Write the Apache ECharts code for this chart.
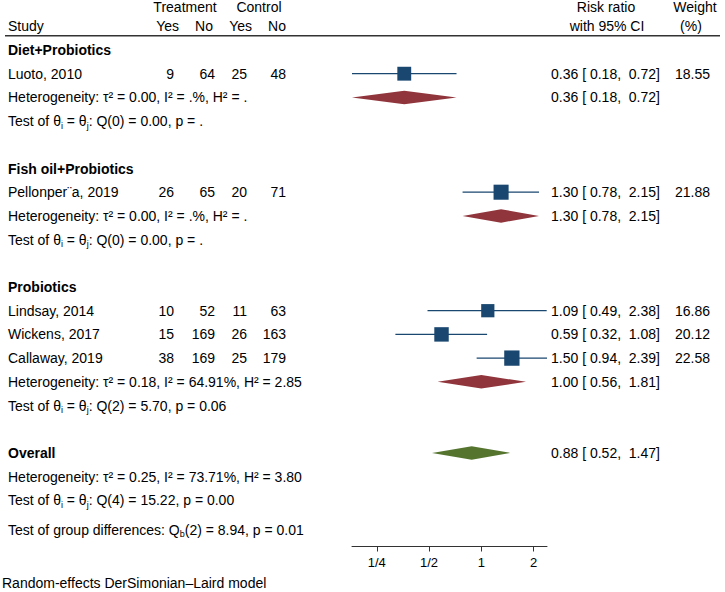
<!DOCTYPE html>
<html>
<head>
<meta charset="utf-8">
<script src="https://cdn.jsdelivr.net/npm/echarts@6/dist/echarts.min.js"></script>
<style>
  html, body { margin: 0; padding: 0; background: #fff; }
  #chart { width: 725px; height: 592px; }
</style>
</head>
<body>
<div id="chart"></div>
<script>
// study level data
const studies = ['Luoto, 2010', 'Pellonper\u00a8a, 2019', 'Lindsay, 2014', 'Wickens, 2017', 'Callaway, 2019'];
const studyRows = [1, 6, 11, 12, 13];
const treatYes = [9, 26, 10, 15, 38];
const treatNo = [64, 65, 52, 169, 169];
const ctrlYes = [25, 20, 11, 26, 25];
const ctrlNo = [48, 71, 63, 163, 179];
const rr = [0.36, 1.30, 1.09, 0.59, 1.50];
const rrLo = [0.18, 0.78, 0.49, 0.32, 0.94];
const rrHi = [0.72, 2.15, 2.38, 1.08, 2.39];
const weights = [18.55, 21.88, 16.86, 20.12, 22.58];

// subgroups
const groups = ['Diet+Probiotics', 'Fish oil+Probiotics', 'Probiotics'];
const groupRows = [0, 5, 10];
const groupRR = [0.36, 1.30, 1.00];
const groupLo = [0.18, 0.78, 0.56];
const groupHi = [0.72, 2.15, 1.81];
const groupHet = ['0.00', '0.00', '0.18'];
const groupI2 = ['.', '.', '64.91'];
const groupH2 = ['.', '.', '2.85'];
const groupQdf = [0, 0, 2];
const groupQ = ['0.00', '0.00', '5.70'];
const groupP = ['.', '.', '0.06'];

// overall
const overallRow = 17;
const overallRR = 0.88, overallLo = 0.52, overallHi = 1.47;
const overallText = { tau2: '0.25', i2: '73.71', h2: '3.80', qdf: 4, q: '15.22', p: '0.00' };
const groupDiff = { df: 2, q: '8.94', p: '0.01' };

const tickValues = [0.25, 0.5, 1, 2];

// layout
const ROW_H = 23.7;
const TOP_ROW = -2;
const AXIS_ROW = 20.95;
const FONT = 'Liberation Sans, Arial, sans-serif';
const BLUE = '#1a476f';
const MAROON = '#90353b';
const GREEN = '#55752f';
const SQUARE_K = 3.22;
const DIAMOND_H = 13.5;

const log2 = Math.log2;
const f2 = v => v.toFixed(2);
const ciText = (m, l, h) => f2(m) + ' [ ' + f2(l) + ',  ' + f2(h) + ']';

const xMin = log2(Math.min(...rrLo, ...groupLo, overallLo));
const xMax = log2(Math.max(...rrHi, ...groupHi, overallHi));

const chart = echarts.init(document.getElementById('chart'), null, { renderer: 'svg' });

const diamondRows = [2, 7, 14];
const diamondData = groupRR.map((m, i) => [log2(groupLo[i]), log2(m), log2(groupHi[i]), diamondRows[i], 0]);
diamondData.push([log2(overallLo), log2(overallRR), log2(overallHi), overallRow, 1]);

function renderDiamond(params, api) {
  const l = api.coord([api.value(0), api.value(3)]);
  const m = api.coord([api.value(1), api.value(3)]);
  const h = api.coord([api.value(2), api.value(3)]);
  return {
    type: 'polygon',
    shape: { points: [[l[0], l[1]], [m[0], m[1] - DIAMOND_H / 2], [h[0], h[1]], [m[0], m[1] + DIAMOND_H / 2]] },
    style: { fill: api.value(4) ? GREEN : MAROON }
  };
}

function renderCI(params, api) {
  const a = api.coord([api.value(0), api.value(2)]);
  const b = api.coord([api.value(1), api.value(2)]);
  return {
    type: 'line',
    shape: { x1: a[0], y1: a[1], x2: b[0], y2: b[1] },
    style: { stroke: BLUE, lineWidth: 1.2 }
  };
}

chart.setOption({
  animation: false,
  grid: {
    left: 352,
    width: 195,
    top: 50 + TOP_ROW * ROW_H,
    height: (AXIS_ROW - TOP_ROW) * ROW_H
  },
  xAxis: {
    type: 'value',
    position: 'bottom',
    min: xMin,
    max: xMax,
    splitLine: { show: false },
    axisLine: { onZero: false, lineStyle: { color: '#333', width: 1 } },
    axisTick: { length: 5, lineStyle: { color: '#333' }, customValues: tickValues.map(log2) },
    axisLabel: {
      customValues: tickValues.map(log2),
      margin: 9,
      color: '#000',
      fontSize: 13,
      fontFamily: FONT,
      formatter: v => {
        const r = Math.pow(2, v);
        return r < 1 ? '1/' + Math.round(1 / r) : String(Math.round(r));
      }
    }
  },
  yAxis: {
    type: 'value',
    inverse: true,
    min: TOP_ROW,
    max: AXIS_ROW,
    show: false
  },
  series: [
    {
      type: 'custom',
      renderItem: renderCI,
      data: rrLo.map((l, i) => [log2(l), log2(rrHi[i]), studyRows[i]]),
      z: 2
    },
    {
      type: 'scatter',
      symbol: 'rect',
      symbolSize: v => SQUARE_K * Math.sqrt(v[2]),
      itemStyle: { color: BLUE, opacity: 1 },
      data: rr.map((m, i) => [log2(m), studyRows[i], weights[i]]),
      z: 3
    },
    {
      type: 'custom',
      renderItem: renderDiamond,
      data: diamondData,
      z: 2
    }
  ]
});

// text table, rows placed through the y axis
const rowY = r => chart.convertToPixel({ yAxisIndex: 0 }, r);
const base = { fontFamily: FONT, fontSize: 14, fill: '#000' };
const txt = (x, row, text, opts) => ({
  type: 'text',
  x: x,
  y: rowY(row),
  style: Object.assign({}, base, { text: text, verticalAlign: 'middle', align: 'left' }, opts || {})
});
const rich = {
  s: { fontSize: 9, lineHeight: 9, verticalAlign: 'bottom', fontFamily: FONT, fill: '#000' },
  n: { fontSize: 14, lineHeight: 18, fontFamily: FONT, fill: '#000' }
};
const hetLine = (t, i, h) => 'Heterogeneity: \u03c4\u00b2 = ' + t + ', I\u00b2 = ' + i + '%, H\u00b2 = ' + h;
const testLine = (df, q, p) => '{n|Test of \u03b8}{s|i}{n| = \u03b8}{s|j}{n|: Q(' + df + ') = ' + q + ', p = ' + p + '}';

const COL_STUDY = 8, COL_TY = 174, COL_TN = 215, COL_CY = 247, COL_CN = 286;
const COL_CI = 551, COL_W = 710;

const g = [];
// header
g.push(txt(185, -1.8, 'Treatment', { align: 'center' }));
g.push(txt(259, -1.8, 'Control', { align: 'center' }));
g.push(txt(COL_STUDY, -1.03, 'Study'));
g.push(txt(179, -1.03, 'Yes', { align: 'right' }));
g.push(txt(213, -1.03, 'No', { align: 'right' }));
g.push(txt(252, -1.03, 'Yes', { align: 'right' }));
g.push(txt(286, -1.03, 'No', { align: 'right' }));
g.push(txt(606, -1.8, 'Risk ratio', { align: 'center' }));
g.push(txt(607, -1.03, 'with 95% CI', { align: 'center' }));
g.push(txt(695, -1.8, 'Weight', { align: 'center' }));
g.push(txt(691, -1.03, '(%)', { align: 'center' }));
g.push({
  type: 'line',
  shape: { x1: 5, y1: rowY(-0.6), x2: 720, y2: rowY(-0.6) },
  style: { stroke: '#333', lineWidth: 1.5 }
});

// groups
groups.forEach((name, i) => {
  g.push(txt(COL_STUDY, groupRows[i], name, { fontWeight: 'bold' }));
  g.push(txt(COL_STUDY, diamondRows[i], hetLine(groupHet[i], groupI2[i], groupH2[i])));
  g.push(txt(COL_STUDY, diamondRows[i] + 1, testLine(groupQdf[i], groupQ[i], groupP[i]), { rich: rich }));
  g.push(txt(COL_CI, diamondRows[i], ciText(groupRR[i], groupLo[i], groupHi[i])));
});

// studies
studies.forEach((name, i) => {
  const r = studyRows[i];
  g.push(txt(COL_STUDY, r, name));
  g.push(txt(COL_TY, r, String(treatYes[i]), { align: 'right' }));
  g.push(txt(COL_TN, r, String(treatNo[i]), { align: 'right' }));
  g.push(txt(COL_CY, r, String(ctrlYes[i]), { align: 'right' }));
  g.push(txt(COL_CN, r, String(ctrlNo[i]), { align: 'right' }));
  g.push(txt(COL_CI, r, ciText(rr[i], rrLo[i], rrHi[i])));
  g.push(txt(COL_W, r, f2(weights[i]), { align: 'right' }));
});

// overall
g.push(txt(COL_STUDY, overallRow, 'Overall', { fontWeight: 'bold' }));
g.push(txt(COL_STUDY, overallRow + 1, hetLine(overallText.tau2, overallText.i2, overallText.h2)));
g.push(txt(COL_STUDY, overallRow + 2, testLine(overallText.qdf, overallText.q, overallText.p), { rich: rich }));
g.push(txt(COL_CI, overallRow, ciText(overallRR, overallLo, overallHi)));
g.push(txt(COL_STUDY, 20.25,
  '{n|Test of group differences: Q}{s|b}{n|(' + groupDiff.df + ') = ' + groupDiff.q + ', p = ' + groupDiff.p + '}',
  { rich: rich }));

// note
g.push({
  type: 'text',
  x: 2,
  y: 583,
  style: Object.assign({}, base, { text: 'Random-effects DerSimonian\u2013Laird model', verticalAlign: 'middle' })
});

chart.setOption({ graphic: { elements: g } });
</script>
</body>
</html>
